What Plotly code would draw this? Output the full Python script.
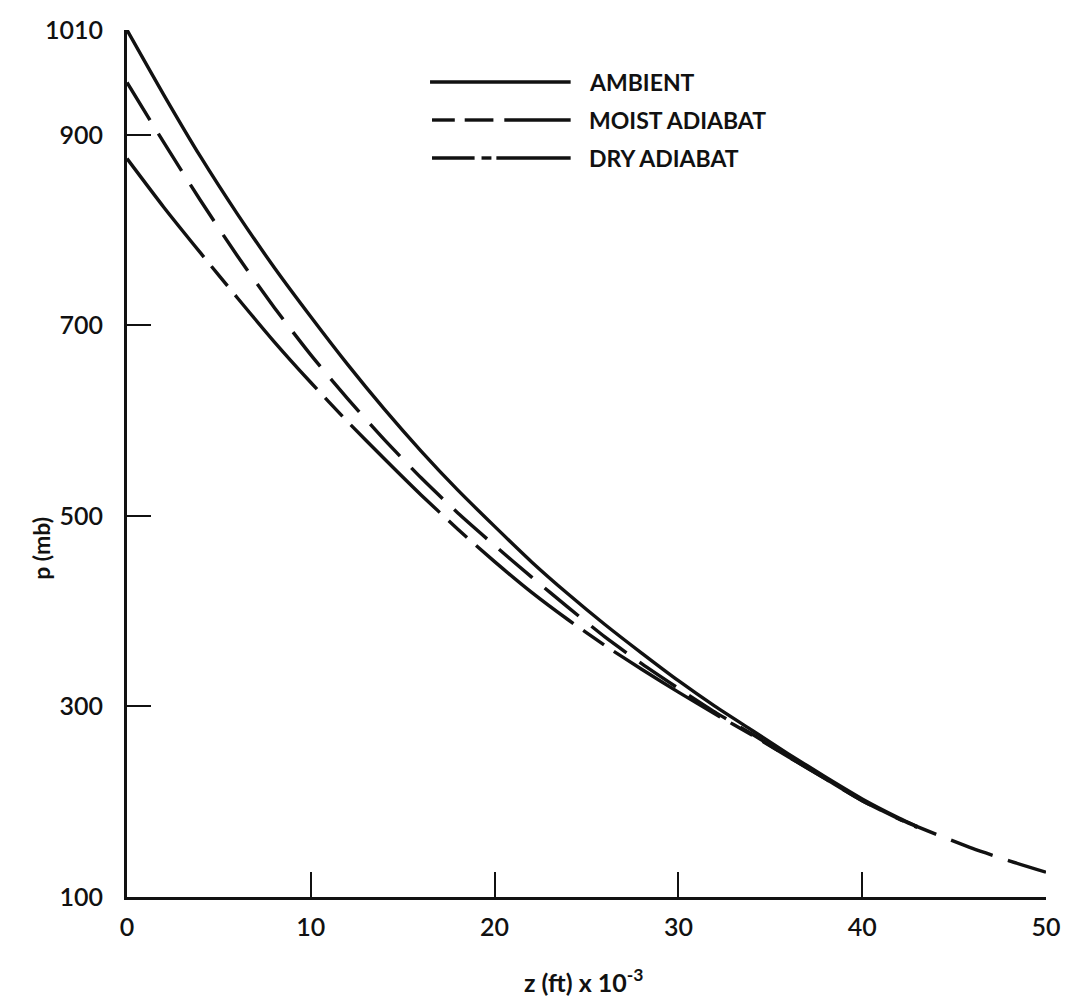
import plotly.graph_objects as go

# Altitude z (thousands of ft)
z_ambient = [0, 2, 4, 6, 8, 10, 12, 14, 16, 18, 20, 22, 24, 26, 28, 30, 32, 34, 36, 38, 40, 42, 43]
p_ambient = [1010, 942, 877, 817, 761, 709, 659, 612, 568, 527, 489, 452, 418, 386, 356, 327, 300, 275, 250, 226, 203, 183, 174]

z_moist = [0, 2, 4, 6, 8, 10, 12, 14, 16, 18, 20, 22, 24, 26, 28, 30, 32, 34, 36, 38, 40, 42, 44, 46, 48, 50]
p_moist = [955, 892, 831, 773, 719, 669, 623, 580, 540, 503, 469, 436, 404, 373, 345, 319, 294, 271, 247, 224, 201, 182, 166, 151, 138, 126]

z_dry = [0, 2, 4, 6, 8, 10, 12, 14, 16, 18, 20, 22, 24, 26, 28, 30, 32, 34, 36, 38, 40, 42, 43]
p_dry = [875, 824, 776, 729, 683, 640, 599, 560, 522, 486, 452, 420, 391, 364, 339, 315, 292, 270, 247, 224, 201, 182, 173]

x_ticks = [0, 10, 20, 30, 40, 50]
y_ticks = [100, 300, 500, 700, 900, 1010]
legend_labels = ["AMBIENT", "MOIST ADIABAT", "DRY ADIABAT"]

FONT = "Lato"
W, H = 1073, 1003
ML, MR, MT, MB = 127, 18, 30, 106
PW, PH = W - ML - MR, H - MT - MB


def px(xp):
    return (xp - ML) / PW


def py(yp):
    return (H - MB - yp) / PH


fig = go.Figure()
fig.add_trace(go.Scatter(x=z_ambient, y=p_ambient, mode="lines", name=legend_labels[0],
                         line=dict(color="#111", width=3.4, shape="spline", smoothing=0.6),
                         cliponaxis=False))
fig.add_trace(go.Scatter(x=z_moist, y=p_moist, mode="lines", name=legend_labels[1],
                         line=dict(color="#111", width=3.4, dash="44px,16px", shape="spline", smoothing=0.6),
                         cliponaxis=False))
fig.add_trace(go.Scatter(x=z_dry, y=p_dry, mode="lines", name=legend_labels[2],
                         line=dict(color="#111", width=3.4, dash="125px,12px,25px,12px", shape="spline", smoothing=0.6),
                         cliponaxis=False))

# Hand-drawn style legend (line samples + labels)
shapes = []
legend_rows = [
    (82, [(433, 575)]),
    (120, [(435, 458), (468, 497), (508, 575)]),
    (158, [(435, 478), (485, 495), (500, 575)]),
]
for yrow, segs in legend_rows:
    for x0, x1 in segs:
        shapes.append(dict(type="line", xref="paper", yref="paper",
                           x0=px(x0), x1=px(x1), y0=py(yrow), y1=py(yrow),
                           line=dict(color="#111", width=3.4)))

annotations = []
for (yrow, _), label in zip(legend_rows, legend_labels):
    annotations.append(dict(text="<b>" + label + "</b>", xref="paper", yref="paper", x=px(591), y=py(yrow),
                            xanchor="left", yanchor="middle", showarrow=False,
                            font=dict(family=FONT, size=23, color="#111")))

annotations.append(dict(text="<b>p (mb)</b>", xref="paper", yref="paper", x=px(40), y=py(548),
                        xanchor="center", yanchor="middle", textangle=-90, showarrow=False,
                        font=dict(family=FONT, size=23, color="#111")))
annotations.append(dict(text="<b>z (ft) x 10<sup>-3</sup></b>", xref="paper", yref="paper",
                        x=px(588), y=py(980), xanchor="center", yanchor="middle", showarrow=False,
                        font=dict(family=FONT, size=25, color="#111")))

fig.update_layout(
    width=W, height=H,
    margin=dict(l=ML, r=MR, t=MT, b=MB),
    paper_bgcolor="white", plot_bgcolor="white",
    showlegend=False,
    shapes=shapes, annotations=annotations,
    font=dict(family=FONT, color="#111"),
)
fig.update_xaxes(range=[0, 50], tickvals=x_ticks, ticktext=[str(v) for v in x_ticks],
                 showline=True, linecolor="#111", linewidth=3, ticks="inside", ticklen=25,
                 tickwidth=2, tickcolor="#111", showgrid=False, zeroline=False,
                 tickfont=dict(family=FONT, size=25, color="#111", weight=600), ticklabelstandoff=6)
fig.update_yaxes(range=[100, 1010], tickvals=y_ticks, ticktext=[str(v) for v in y_ticks],
                 showline=True, linecolor="#111", linewidth=3, ticks="inside", ticklen=24,
                 tickwidth=2, tickcolor="#111", showgrid=False, zeroline=False,
                 tickfont=dict(family=FONT, size=25, color="#111", weight=600), ticklabelstandoff=16)

fig.write_html("out.html")
